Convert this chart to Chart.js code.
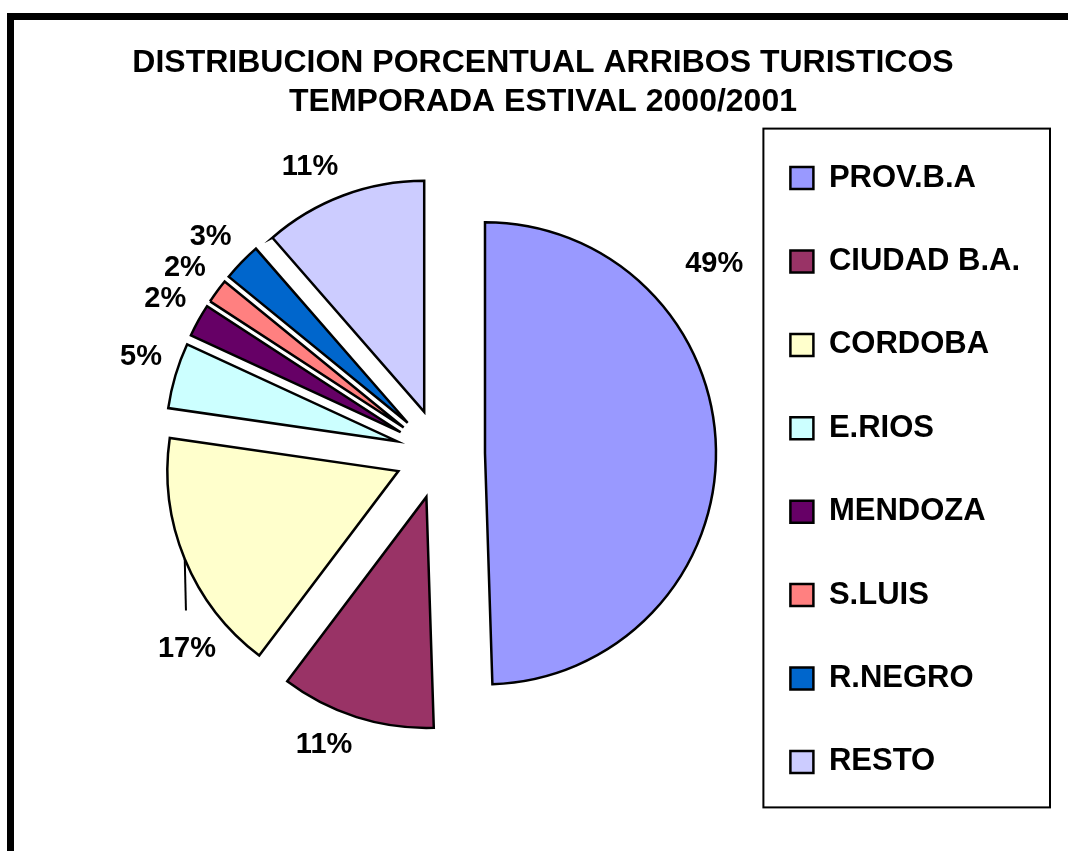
<!DOCTYPE html>
<html>
<head>
<meta charset="utf-8">
<script src="https://cdn.jsdelivr.net/npm/chart.js@4/dist/chart.umd.min.js"></script>
<style>
  html, body { margin: 0; padding: 0; background: #fff; }
  #wrap { position: relative; width: 1068px; height: 851px; }
</style>
</head>
<body>
<div id="wrap"><canvas id="chart" width="1068" height="851"></canvas></div>
<script>
// data (percent of arrivals)
const titleLines = ['DISTRIBUCION PORCENTUAL ARRIBOS TURISTICOS', 'TEMPORADA ESTIVAL 2000/2001'];
const provinces = ['PROV.B.A', 'CIUDAD B.A.', 'CORDOBA', 'E.RIOS', 'MENDOZA', 'S.LUIS', 'R.NEGRO', 'RESTO'];
const shares = [49.49, 10.8, 17.0, 4.6, 2.3, 1.7, 2.7, 11.41];
const sliceColors = ['#9999FF', '#993366', '#FFFFCC', '#CCFFFF', '#660066', '#FF8080', '#0066CC', '#CCCCFF'];

const FONT = 'Arial, "Liberation Sans", Helvetica, sans-serif';

// move every slice outwards along its bisector, like an exploded Excel pie
const explode = {
  id: 'explode',
  afterDatasetUpdate(chart, args, opts) {
    args.meta.data.forEach(arc => {
      const mid = (arc.startAngle + arc.endAngle) / 2;
      arc.x += Math.cos(mid) * opts.distance;
      arc.y += Math.sin(mid) * opts.distance;
    });
  }
};

// percentage labels outside the slices (label corner sits on the bisector)
const pctLabels = {
  id: 'pctLabels',
  afterDatasetsDraw(chart, args, opts) {
    const ctx = chart.ctx;
    const values = chart.data.datasets[0].data;
    const total = values.reduce((a, b) => a + b, 0);
    ctx.save();
    ctx.font = 'bold ' + opts.size + 'px ' + FONT;
    ctx.fillStyle = '#000';
    ctx.textAlign = 'center';
    ctx.textBaseline = 'middle';
    chart.getDatasetMeta(0).data.forEach((arc, i) => {
      const txt = Math.round(values[i] / total * 100) + '%';
      const mid = (arc.startAngle + arc.endAngle) / 2;
      const ov = opts.overrides[i] || {};
      let lx, ly;
      if (ov.angle !== undefined) {
        const a = ov.angle * Math.PI / 180 - Math.PI / 2;
        lx = arc.x + Math.cos(a) * ov.dist;
        ly = arc.y + Math.sin(a) * ov.dist;
      } else {
        const hw = ctx.measureText(txt).width / 2;
        const d = arc.outerRadius + opts.gap;
        lx = arc.x + Math.cos(mid) * d + hw * Math.sign(Math.cos(mid));
        ly = arc.y + Math.sin(mid) * d + opts.halfHeight * Math.sign(Math.sin(mid));
      }
      if (ov.leader) {
        ctx.beginPath();
        ctx.lineWidth = 2;
        ctx.strokeStyle = '#000';
        ctx.moveTo(arc.x + Math.cos(mid) * arc.outerRadius, arc.y + Math.sin(mid) * arc.outerRadius);
        ctx.lineTo(lx - 1, ly - 38);
        ctx.stroke();
      }
      ctx.fillText(txt, lx, ly);
    });
    ctx.restore();
  }
};

// place the legend box and draw its frame, plus the heavy page frame
const frames = {
  id: 'frames',
  afterLayout(chart, args, opts) {
    const lg = chart.legend;
    lg.left = opts.legendLeft;
    lg.right = chart.width;
    lg.width = lg.right - lg.left;
    lg.top += opts.legendShiftY;
    lg.bottom += opts.legendShiftY;
  },
  beforeDraw(chart) {
    const ctx = chart.ctx;
    ctx.save();
    ctx.fillStyle = '#000';
    ctx.fillRect(7, 13, chart.width - 7, 7);
    ctx.fillRect(7, 13, 7, chart.height - 13);
    ctx.restore();
  },
  afterDraw(chart, args, opts) {
    const hb = chart.legend.legendHitBoxes;
    if (!hb.length) return;
    const first = hb[0], last = hb[hb.length - 1];
    const x0 = first.left - 27, y0 = first.top - 34;
    const ctx = chart.ctx;
    ctx.save();
    ctx.strokeStyle = '#000';
    ctx.lineWidth = 2;
    ctx.strokeRect(x0, y0, opts.frameRight - x0, last.top + last.height + 30 - y0);
    ctx.restore();
  }
};

new Chart(document.getElementById('chart'), {
  type: 'pie',
  data: {
    labels: provinces,
    datasets: [{
      data: shares,
      backgroundColor: sliceColors,
      borderColor: '#000',
      borderWidth: 2.5,
      borderJoinStyle: 'miter'
    }]
  },
  plugins: [explode, pctLabels, frames],
  options: {
    responsive: false,
    animation: false,
    radius: 231,
    layout: { padding: { left: 18, right: 0, top: 20, bottom: 71 } },
    plugins: {
      title: {
        display: true,
        text: titleLines,
        color: '#000',
        font: { family: FONT, size: 32, weight: 'bold', lineHeight: 39 / 32 },
        padding: { top: 24, bottom: 6 }
      },
      legend: {
        position: 'right',
        align: 'center',
        maxWidth: 206,
        labels: {
          color: '#000',
          font: { family: FONT, size: 31, weight: 'bold' },
          boxWidth: 23,
          boxHeight: 22,
          padding: 52.4
        }
      },
      tooltip: { enabled: false },
      explode: { distance: 45 },
      pctLabels: {
        size: 29,
        gap: 14,
        halfHeight: 15,
        overrides: {
          0: { angle: 50.5, dist: 297 },
          2: { angle: 230, dist: 276, leader: true }
        }
      },
      frames: { legendLeft: 738, legendShiftY: 70, frameRight: 1050 }
    }
  }
});
</script>
</body>
</html>
